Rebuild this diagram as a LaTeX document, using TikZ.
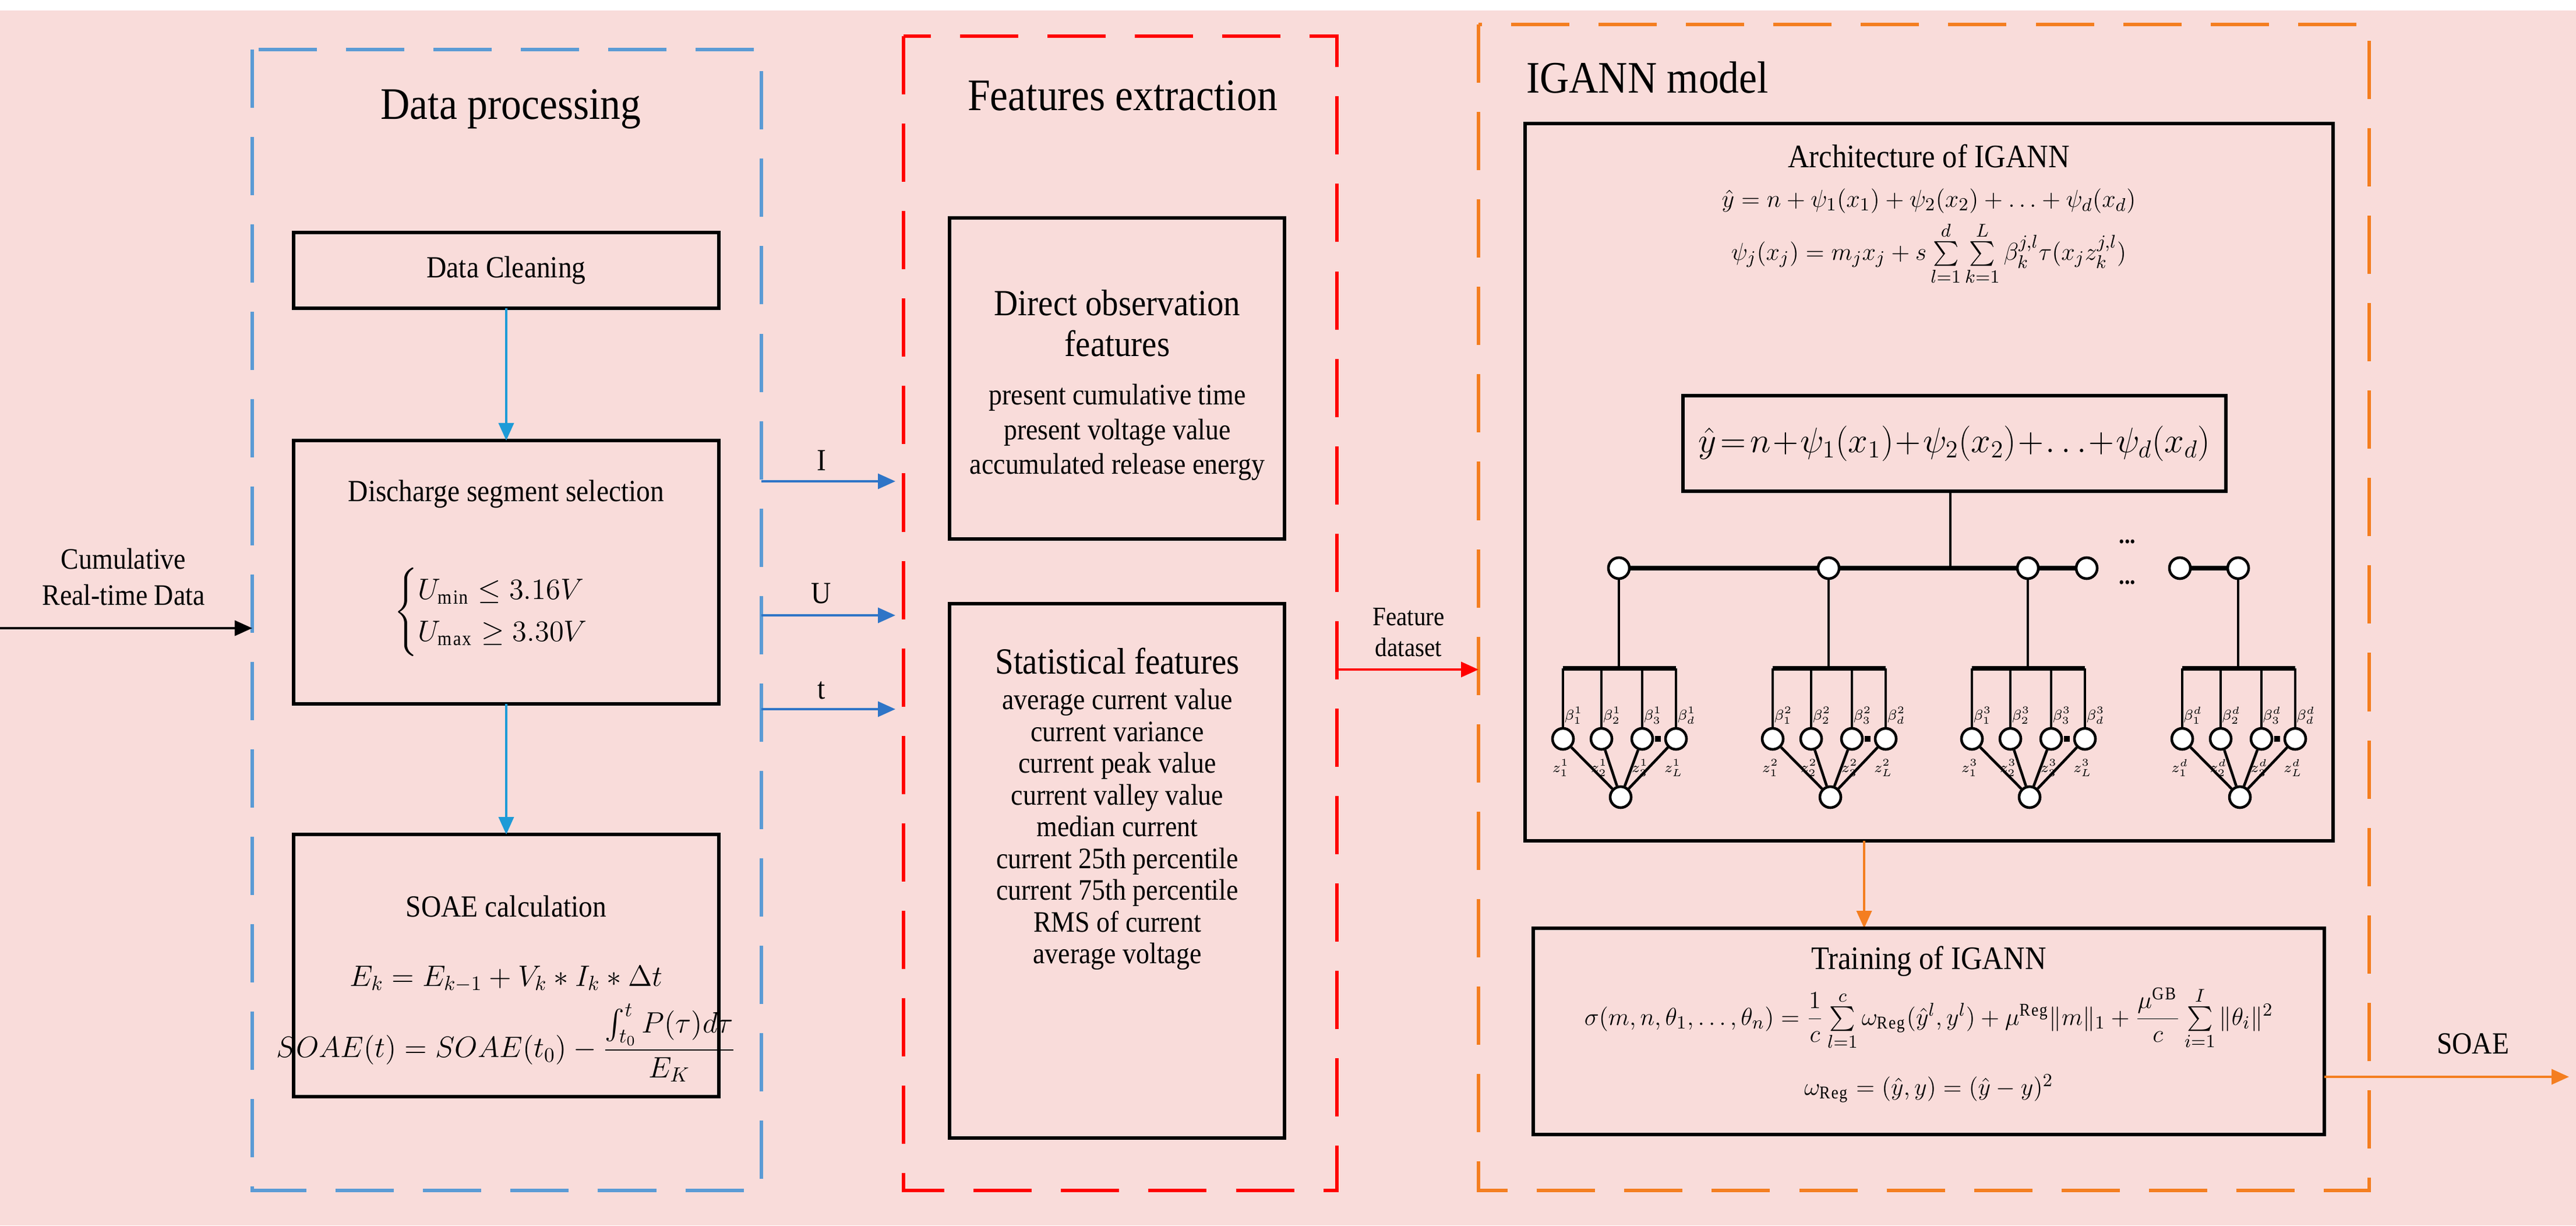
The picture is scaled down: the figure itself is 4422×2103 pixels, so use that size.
\documentclass[tikz,border=0pt]{standalone}
\usepackage{amsmath}
\usepackage{fontspec}
\setmainfont{Liberation Serif}[FakeStretch=0.9]
\usetikzlibrary{arrows.meta}
\definecolor{bgpink}{HTML}{F9DCDA}
\definecolor{dpblue}{HTML}{5B9BD5}
\definecolor{arblue}{HTML}{1E9BD7}
\definecolor{ioblue}{HTML}{2F75C7}
\definecolor{fered}{HTML}{FF0000}
\definecolor{igorange}{HTML}{F47E20}
\begin{document}
\begin{tikzpicture}[x=0.01cm,y=-0.01cm,
  dbox/.style={line width=1.5pt,dash pattern=on 1cm off 0.5cm},
  box/.style={draw=black,line width=1.6pt},
  ttl/.style={font=\fontsize{22}{24}\selectfont},
  txt/.style={font=\fontsize{15}{17}\selectfont,align=center},
  arr/.style={line width=1.1pt,-{Triangle[length=0.3cm,width=0.26cm]}},
  tn/.style={circle,draw=black,fill=white,line width=1.3pt,minimum size=0.36cm,inner sep=0pt},
  lab/.style={font=\fontsize{7}{8}\selectfont,inner sep=0pt}]
\useasboundingbox (0,0) rectangle (4422,2103);
\fill[bgpink] (0,18) rectangle (4422,2103);
% dashed containers
\draw[dbox,dpblue] (433,85) rectangle (1307,2043);
\draw[dbox,fered] (1551,62) rectangle (2295,2043);
\draw[dbox,igorange] (2538,42) rectangle (4067,2043);
\node[ttl] (tdp) at (877,187) {Data processing};
\node[ttl] (tfe) at (1927,164) {Features extraction};
\node[ttl] (tig) at (2828,133) {IGANN model};
% data processing boxes
\draw[box] (504,399) rectangle (1234,529);
\node[txt] (dc) at (869,464) {Data Cleaning};
\coordinate (dcb) at (869,529);
\draw[box] (504,756) rectangle (1234,1208);
\coordinate (dst) at (869,756);
\coordinate (dsb) at (869,1208);
\node[txt] (ds) at (869,848) {Discharge segment selection};
\node[font=\fontsize{14}{17}\selectfont] (dsf) at (869,1050) {$\begin{cases} U_{\min}\le 3.16V\\ U_{\max}\ge 3.30V\end{cases}$};
\draw[box] (504,1432) rectangle (1234,1882);
\coordinate (sot) at (869,1432);
\node[txt] (so) at (869,1555) {SOAE calculation};
\node[font=\fontsize{14}{17}\selectfont] (sof1) at (869,1680) {$E_k=E_{k-1}+V_k*I_k*\Delta t$};
\node[font=\fontsize{14}{17}\selectfont] (sof2) at (869,1790) {$SOAE(t)=SOAE(t_0)-\dfrac{\int_{t_0}^{t}P(\tau)d\tau}{E_K}$};
\draw[arr,arblue] (dcb) -- (dst);
\draw[arr,arblue] (dsb) -- (sot);
% input
\coordinate (in0) at (0,1078);
\coordinate (in1) at (433,1078);
\draw[arr,black] (in0) -- (in1);
\node[txt,font=\fontsize{14.5}{17.5}\selectfont] (inl) at (212,990) {Cumulative\\Real-time Data};
% I U t
\coordinate (i0) at (1307,826); \coordinate (i1) at (1537,826);
\coordinate (u0) at (1307,1056); \coordinate (u1) at (1537,1056);
\coordinate (t0) at (1307,1217); \coordinate (t1) at (1537,1217);
\draw[arr,ioblue] (i0) -- (i1);
\draw[arr,ioblue] (u0) -- (u1);
\draw[arr,ioblue] (t0) -- (t1);
\node[txt] (il) at (1410,790) {I};
\node[txt] (ul) at (1410,1018) {U};
\node[txt] (tl) at (1410,1185) {t};
% features
\draw[box] (1630,374) rectangle (2205,925);
\node[align=center,font=\fontsize{18}{20}\selectfont] (do) at (1918,555) {Direct observation\\features};
\node[align=center,font=\fontsize{14.5}{17}\selectfont] (dol) at (1918,742) {present cumulative time\\present voltage value\\accumulated release energy};
\draw[box] (1630,1036) rectangle (2205,1953);
\node[align=center,font=\fontsize{18}{21}\selectfont] (sf) at (1918,1135) {Statistical features};
\node[align=center,font=\fontsize{14.5}{15.5}\selectfont,anchor=north] (sfl) at (1918,1170) {average current value\\current variance\\current peak value\\current valley value\\median current\\current 25th percentile\\current 75th percentile\\RMS of current\\average voltage};
\coordinate (f0) at (2295,1149); \coordinate (f1) at (2538,1149);
\draw[arr,fered] (f0) -- (f1);
\node[align=center,font=\fontsize{13}{15}\selectfont] (fl) at (2418,1085) {Feature\\dataset};
% IGANN architecture
\draw[box] (2618,212) rectangle (4005,1443);
\node[font=\fontsize{16}{19}\selectfont] (at) at (3311,268) {Architecture of IGANN};
\node[font=\fontsize{13}{15}\selectfont] (af1) at (3311,345) {$\hat y=n+\psi_1(x_1)+\psi_2(x_2)+\ldots+\psi_d(x_d)$};
\node[font=\fontsize{13}{15}\selectfont] (af2) at (3311,435) {$\psi_j(x_j)=m_jx_j+s\sum\limits_{l=1}^{d}\sum\limits_{k=1}^{L}\beta_k^{j,l}\tau(x_jz_k^{j,l})$};
\draw[box] (2889,679) rectangle (3821,843);
\node[font=\fontsize{17}{20}\selectfont] (eq) at (3355,761) {$\hat y\!=\!n\!+\!\psi_1(x_1)\!+\!\psi_2(x_2)\!+\!\ldots\!+\!\psi_d(x_d)$};
\coordinate (eqb) at (3348,843);
\coordinate (eqj) at (3348,975);
\draw[line width=0.9pt] (eqb) -- (eqj);
% top nodes
\foreach \n/\x in {a/2779,b/3139,c/3481,e/3582,f/3742,g/3842}{\node[tn] (top\n) at (\x,975) {};}
\draw[line width=2pt] (topa) -- (topb) -- (topc) -- (tope);
\draw[line width=2pt] (topf) -- (topg);
\node[font=\fontsize{12}{12}\selectfont\bfseries] (dots1) at (3652,930) {...};
\node[font=\fontsize{12}{12}\selectfont\bfseries] (dots2) at (3652,1000) {...};
% groups
\foreach \n/\x/\s in {a/2779/1,b/3139/2,c/3481/3,g/3842/d}{
  \coordinate (bar\n) at (\x,1147);
  \draw[line width=0.9pt] (top\n) -- (bar\n);
  \draw[line width=2.2pt] (\x-96,1147) -- (\x+98,1147);
  \node[tn] (bot\n) at (\x+3,1368) {};
  \foreach \k/\o/\lb/\lz in {1/-96/1/1,2/-30/2/2,3/40/3/3,4/98/d/L}{
    \node[tn] (l\n\k) at (\x+\o,1268) {};
    \draw[line width=1.1pt] (\x+\o,1147) -- (l\n\k);
    \draw[line width=1.3pt] (l\n\k) -- (bot\n);
    \node[lab] (b\n\k) at (\x+\o+18,1228) {$\beta_{\lb}^{\s}$};
    \node[lab] (z\n\k) at (\x+\o-4,1318) {$z_{\lz}^{\s}$};
  }
  \fill (\x+62,1263) rectangle (\x+72,1273);
}
% orange arrow
\coordinate (ab) at (3200,1443); \coordinate (tt) at (3200,1593);
\draw[arr,igorange] (ab) -- (tt);
% training box
\draw[box] (2632,1593) rectangle (3990,1947);
\node[font=\fontsize{16}{19}\selectfont] (tr) at (3311,1650) {Training of IGANN};
\node[font=\fontsize{12.5}{14}\selectfont] (tf1) at (3311,1748) {$\sigma(m,n,\theta_1,\ldots,\theta_n)=\dfrac{1}{c}\sum\limits_{l=1}^{c}\omega_{\mathrm{Reg}}(\hat y^l,y^l)+\mu^{\mathrm{Reg}}\|m\|_1+\dfrac{\mu^{\mathrm{GB}}}{c}\sum\limits_{i=1}^{I}\|\theta_i\|^2$};
\node[font=\fontsize{12.5}{14}\selectfont] (tf2) at (3311,1868) {$\omega_{\mathrm{Reg}}=(\hat y,y)=(\hat y-y)^2$};
\coordinate (s0) at (3990,1848); \coordinate (s1) at (4410,1848);
\draw[arr,igorange] (s0) -- (s1);
\node[txt] (sl) at (4245,1791) {SOAE};
\end{tikzpicture}
\end{document}
